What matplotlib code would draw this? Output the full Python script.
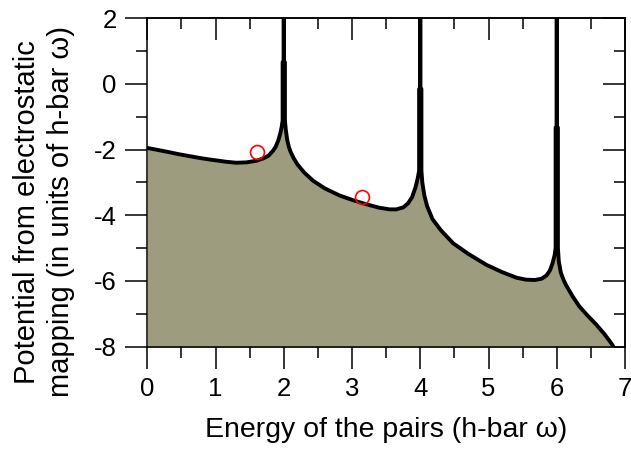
import matplotlib
matplotlib.use("Agg")
import matplotlib.pyplot as plt
from matplotlib.ticker import MultipleLocator

plt.rcParams['font.family'] = ['Liberation Sans', 'DejaVu Sans']
plt.rcParams['axes.unicode_minus'] = False

# potential curve read along the boundary; spikes at 2, 4 and 6 run off the top
energy = [0.0, 0.15, 0.3, 0.46, 0.62, 0.78, 0.94, 1.05, 1.15, 1.30, 1.45, 1.60, 1.70, 1.78, 1.84,
          1.88, 1.92, 1.95, 1.97,
          1.983, 1.983, 2.0, 2.0, 2.0, 2.017, 2.017,
          2.03, 2.05, 2.075, 2.10, 2.15, 2.20, 2.30, 2.43, 2.60, 2.82, 3.00, 3.20, 3.40, 3.55, 3.65,
          3.75, 3.82, 3.88, 3.93, 3.96,
          3.983, 3.983, 4.0, 4.0, 4.0, 4.017, 4.017,
          4.03, 4.06, 4.10, 4.18, 4.30, 4.48, 4.70, 4.97, 5.20, 5.41, 5.55, 5.68, 5.78, 5.85, 5.90,
          5.94, 5.97,
          5.983, 5.983, 6.0, 6.0, 6.0, 6.017, 6.017,
          6.03, 6.06, 6.10, 6.14, 6.23, 6.33, 6.45, 6.58, 6.70, 6.80, 6.86]
potential = [-1.95, -2.01, -2.07, -2.14, -2.20, -2.26, -2.31, -2.34, -2.37, -2.40, -2.39, -2.34, -2.27, -2.18, -2.04,
             -1.92, -1.72, -1.50, -1.30,
             -1.12, 0.66, 0.66, 3.0, 0.66, 0.66, -1.12,
             -1.40, -1.70, -1.92, -2.07, -2.28, -2.45, -2.70, -2.95, -3.18, -3.40, -3.53, -3.66, -3.77, -3.82, -3.82,
             -3.76, -3.64, -3.45, -3.15, -2.90,
             -2.65, -0.16, -0.16, 3.0, -0.16, -0.16, -2.65,
             -3.00, -3.40, -3.72, -4.12, -4.45, -4.85, -5.17, -5.51, -5.73, -5.90, -5.96, -5.97, -5.93, -5.83, -5.68,
             -5.45, -5.20,
             -5.0, -1.33, -1.33, 3.0, -1.33, -1.33, -5.0,
             -5.40, -5.75, -5.97, -6.14, -6.46, -6.77, -7.05, -7.33, -7.62, -7.90, -8.10]

# the two open red points
pt_energy = [1.61, 3.15]
pt_potential = [-2.06, -3.44]

fig = plt.figure(figsize=(6.31, 4.51), dpi=100)
ax = fig.add_axes([0.2334, 0.2313, 0.7571, 0.7284])

ax.fill_between(energy, potential, -9, color='#9e9c7e', lw=0)
ax.plot(energy, potential, color='black', lw=2.8, solid_joinstyle='round')
ax.plot(pt_energy, pt_potential, 'o', ms=10, mfc='none', mec='#ff0000', mew=1.2)

ax.set_xlim(0, 7)
ax.set_ylim(-8, 2)
ax.xaxis.set_major_locator(MultipleLocator(1))
ax.xaxis.set_minor_locator(MultipleLocator(0.5))
ax.yaxis.set_major_locator(MultipleLocator(2))
ax.yaxis.set_minor_locator(MultipleLocator(1))
ax.tick_params(which='major', direction='out', length=16, width=1.1, labelsize=18.5, pad=6)
ax.tick_params(which='minor', direction='out', length=8, width=1.1)

# inward ticks on the top and right edges
top = ax.secondary_xaxis('top')
top.xaxis.set_major_locator(MultipleLocator(1))
top.xaxis.set_minor_locator(MultipleLocator(0.5))
top.tick_params(which='major', direction='in', length=16, width=1.1, labeltop=False)
top.tick_params(which='minor', direction='in', length=8, width=1.1)
right = ax.secondary_yaxis('right')
right.yaxis.set_major_locator(MultipleLocator(2))
right.yaxis.set_minor_locator(MultipleLocator(1))
right.tick_params(which='major', direction='in', length=16, width=1.1, labelright=False)
right.tick_params(which='minor', direction='in', length=8, width=1.1)

for sp in list(ax.spines.values()) + [top.spines['top'], right.spines['right']]:
    sp.set_linewidth(1.1)

ax.set_xlabel('Energy of the pairs (h-bar ω)', fontsize=20.5)
ax.xaxis.set_label_coords(0.5, -0.215)
ax.set_ylabel('Potential from electrostatic\nmapping (in units of h-bar ω)', fontsize=21,
              multialignment='center', linespacing=1.25)
ax.yaxis.set_label_coords(-0.152, 0.41)

fig.savefig('out.png', dpi=100)
